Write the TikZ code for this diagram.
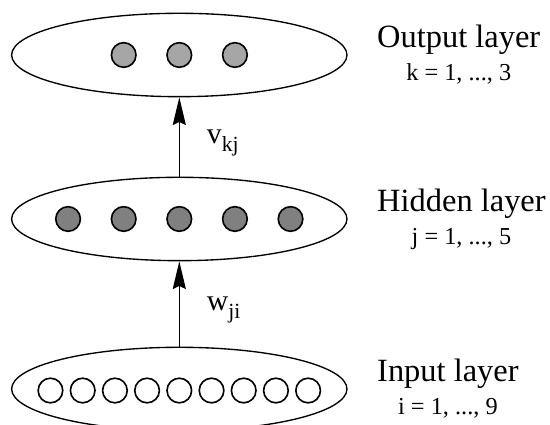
\documentclass[tikz,border=0pt]{standalone}
\usepackage{fontspec}
\setmainfont{Liberation Serif}
\usepackage{tikz}
\usepackage{xcolor}
\usetikzlibrary{arrows.meta,positioning,shapes.geometric,calc}

\begin{document}
\begin{tikzpicture}[
  every node/.style={font=\fontsize{12}{14}\selectfont},
  layer/.style={ellipse,draw,line width=0.5pt,minimum width=4.36cm,
                minimum height=1.084cm,inner sep=0pt},
  unit/.style={circle,draw,line width=0.6pt,minimum size=3.2mm,inner sep=0pt},
  inunit/.style={unit,fill=white},
  hidunit/.style={unit,fill=black!50},
  outunit/.style={unit,fill=black!35},
  dedge/.style={-{Stealth[length=3.6mm,width=1.7mm,inset=0.4mm]},line width=0.5pt},
  ttl/.style={anchor=base west,inner sep=0pt},
  idx/.style={anchor=base,inner sep=0pt,font=\fontsize{9}{11}\selectfont},
  wlab/.style={inner sep=0pt,font=\fontsize{11}{13}\selectfont},
]
\useasboundingbox (0,0) rectangle (7.15,5.525);
% ---- output layer ----
\begin{scope}[shift={(2.331,4.81)}]
  \node[layer] (out) at (0,0) {};
  \node[outunit] (o1) at (-0.723,0) {};
  \node[outunit] (o2) at (0,0)      {};
  \node[outunit] (o3) at (0.723,0)  {};
\end{scope}
% ---- hidden layer ----
\begin{scope}[shift={(2.331,2.678)}]
  \node[layer] (hid) at (0,0) {};
  \node[hidunit] (h1) at (-1.446,0) {};
  \node[hidunit] (h2) at (-0.723,0) {};
  \node[hidunit] (h3) at (0,0)      {};
  \node[hidunit] (h4) at (0.723,0)  {};
  \node[hidunit] (h5) at (1.446,0)  {};
\end{scope}
% ---- input layer (bottom of the ellipse is cut by the page) ----
\begin{scope}[shift={(2.331,0.468)}]
  \node[layer] (inp) at (0,0) {};
  \node[inunit] (i1) at (-1.675,-0.02) {}; \node[inunit] (i2) at (-1.256,-0.02) {};
  \node[inunit] (i3) at (-0.837,-0.02) {}; \node[inunit] (i4) at (-0.419,-0.02) {};
  \node[inunit] (i5) at (0,-0.02)      {};
  \node[inunit] (i6) at (0.419,-0.02)  {}; \node[inunit] (i7) at (0.837,-0.02)  {};
  \node[inunit] (i8) at (1.256,-0.02)  {}; \node[inunit] (i9) at (1.675,-0.02)  {};
\end{scope}
% ---- weights ----
\draw[dedge] (hid.north) -- (out.south)
      node[midway,right=0.35cm,yshift=-0.08cm,wlab] (vkj) {v\raisebox{-3.2pt}{\footnotesize kj}};
\draw[dedge] (inp.north) -- (hid.south)
      node[midway,right=0.35cm,yshift=-0.08cm,wlab] (wji) {w\raisebox{-3.2pt}{\footnotesize ji}};
% ---- layer names, title left aligned, index range centred below ----
\node[ttl] (outT) at ([xshift=0.377cm,yshift=0.1cm]out.east) {Output layer};
\node[idx] (outI) at ([yshift=-0.435cm]outT.base) {k = 1, ..., 3};
\node[ttl] (hidT) at ([xshift=0.377cm,yshift=0.1cm]hid.east) {Hidden layer};
\node[idx] (hidI) at ([yshift=-0.435cm]hidT.base) {j = 1, ..., 5};
\node[ttl] (inpT) at ([xshift=0.377cm,yshift=0.1cm]inp.east) {Input layer};
\node[idx] (inpI) at ([yshift=-0.435cm]inpT.base) {i = 1, ..., 9};
\end{tikzpicture}
\end{document}
